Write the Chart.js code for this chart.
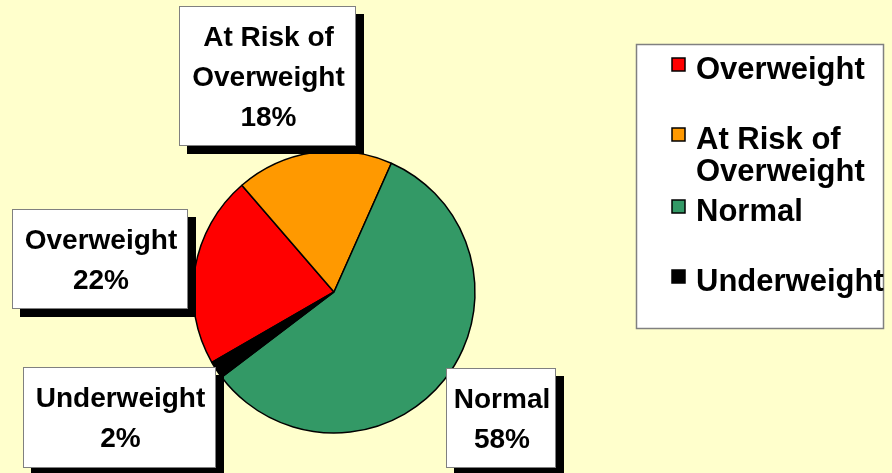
<!DOCTYPE html>
<html>
<head>
<meta charset="utf-8">
<script src="https://cdn.jsdelivr.net/npm/chart.js@4.4.0/dist/chart.umd.min.js"></script>
<style>
  html, body { margin: 0; padding: 0; background: #FFFFCC; }
  #wrap { width: 892px; height: 473px; }
</style>
</head>
<body>
<div id="wrap"><canvas id="weightPie" width="892" height="473"></canvas></div>
<script>
// chart data
const categories = ['Overweight', 'At Risk of Overweight', 'Normal', 'Underweight'];
const boxLines = [['Overweight'], ['At Risk of', 'Overweight'], ['Normal'], ['Underweight']];
const legendLines = [['Overweight'], ['At Risk of', 'Overweight'], ['Normal'], ['Underweight']];
const percentages = [22, 18, 58, 2];
const sliceColors = ['#FF0000', '#FF9900', '#339966', '#000000'];

// callout box placement (left, top, right, bottom)
const calloutBoxes = [
    [12, 209, 188, 309],
    [179, 6, 356, 146],
    [446, 368, 556, 468],
    [23, 367, 216, 468]
];
const legendTextY = [68, 138, 210, 280];

const FONT = '"Liberation Sans", Arial, sans-serif';

const calloutPlugin = {
    id: 'callouts',
    afterDraw(chart) {
        const ctx = chart.ctx;
        ctx.save();
        ctx.textAlign = 'center';
        ctx.textBaseline = 'middle';
        ctx.font = 'bold 28px ' + FONT;
        calloutBoxes.forEach((b, i) => {
            const [l, t, r, btm] = b;
            ctx.fillStyle = '#000';
            ctx.fillRect(l + 8, t + 8, r - l, btm - t);
            ctx.fillStyle = '#FFFFFF';
            ctx.fillRect(l, t, r - l, btm - t);
            ctx.strokeStyle = '#808080';
            ctx.lineWidth = 1;
            ctx.strokeRect(l + 0.5, t + 0.5, r - l - 1, btm - t - 1);
            const lines = boxLines[i].concat([percentages[i] + '%']);
            const step = 40;
            const cx = (l + r) / 2 + 1;
            const cy = (t + btm) / 2 + 2;
            const y0 = cy - step * (lines.length - 1) / 2;
            ctx.fillStyle = '#000';
            lines.forEach((s, k) => ctx.fillText(s, cx, y0 + k * step));
        });

        // legend box
        ctx.fillStyle = '#FFFFFF';
        ctx.fillRect(636, 44, 248, 285);
        ctx.strokeStyle = '#808080';
        ctx.lineWidth = 1.5;
        ctx.strokeRect(636.5, 44.5, 247, 284);
        ctx.textAlign = 'left';
        ctx.font = 'bold 31px ' + FONT;
        legendLines.forEach((lines, i) => {
            const y = legendTextY[i];
            ctx.fillStyle = sliceColors[i];
            ctx.fillRect(672, y - 10, 13, 13);
            ctx.strokeStyle = '#000';
            ctx.lineWidth = 1.5;
            ctx.strokeRect(672, y - 10, 13, 13);
            ctx.fillStyle = '#000';
            lines.forEach((s, k) => ctx.fillText(s, 696, y + 2 + k * 32));
        });
        ctx.restore();
    }
};

new Chart(document.getElementById('weightPie').getContext('2d'), {
    type: 'pie',
    data: {
        labels: categories,
        datasets: [{
            data: percentages,
            backgroundColor: sliceColors,
            borderColor: '#000000',
            borderWidth: 1.5,
            radius: 141
        }]
    },
    options: {
        responsive: false,
        animation: false,
        rotation: -120,
        layout: { padding: { left: 190, right: 414, top: 148, bottom: 37 } },
        plugins: {
            legend: { display: false },
            tooltip: { enabled: false }
        }
    },
    plugins: [calloutPlugin]
});
</script>
</body>
</html>
